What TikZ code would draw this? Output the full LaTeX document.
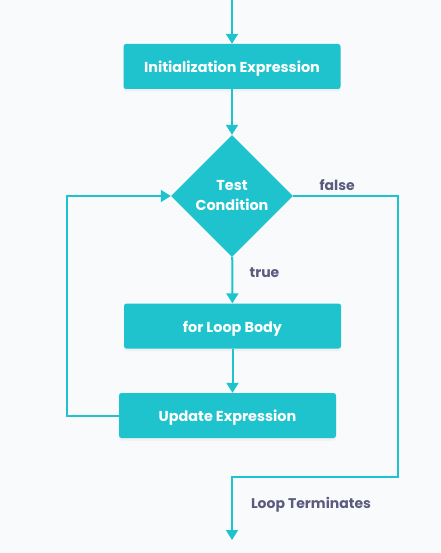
\documentclass[tikz,border=0pt]{standalone}
\usepackage{fontspec}
\setmainfont{Poppins}
\usetikzlibrary{shapes.geometric,arrows.meta,shadows}
\definecolor{teal}{HTML}{1FC3CD}
\definecolor{bgc}{HTML}{F8FAFC}
\definecolor{lbl}{HTML}{5C5A7E}
\tikzset{
  box/.style={draw=none, fill=teal, rounded corners=2.5pt, text=white,
    font=\bfseries\fontsize{14.4}{16}\selectfont, minimum width=217pt,
    minimum height=45pt, text height=12pt, text depth=0pt,
    drop shadow={shadow xshift=0pt, shadow yshift=-2.5pt, opacity=0.08}},
  cond/.style={diamond, aspect=1, fill=teal, text=white, inner sep=0pt,
    font=\bfseries\fontsize{14.4}{20}\selectfont, align=center,
    minimum width=122pt, minimum height=122pt},
  lab/.style={text=lbl, font=\bfseries\fontsize{14}{16}\selectfont},
  flow/.style={draw=teal, line width=2pt, -{Triangle[width=12pt,length=10pt]}}
}
\begin{document}
\begin{tikzpicture}[x=1pt,y=1pt]
      \fill [bgc] (0,0) rectangle (440,-553);
      \useasboundingbox (0,0) rectangle (440,-553);
      \coordinate (in) at (232,0);
      \node [box] (init) at (232,-66.5) {Initialization Expression};
      \node [cond] (test) at (232,-196) {Test\\Condition};
      \node [box] (body) at (232.5,-326) {for Loop Body};
      \node [box] (upd) at (227.5,-415.5) {Update Expression};
      \coordinate (back) at (67,-196);
      \coordinate (side) at (398,-477);
      \coordinate (out) at (232,-540);
      \draw [flow] (in) -- (init);
      \draw [flow] (init) -- (test);
      \draw [flow] (test) -- node [lab,right,pos=0.35,xshift=13pt] {true} (body);
      \draw [flow] (body.south) -- (body.south |- upd.north);
      \draw [flow] (upd.west) -- (upd.west -| back) -- (back) -- (test.west);
      \draw [flow] (test.east) -| node [lab,above,pos=0.21,yshift=1pt] {false} (side) -- (side -| out) -- (out);
      \node [lab] (term) at (311,-505) {Loop Terminates};
    \end{tikzpicture}
\end{document}
